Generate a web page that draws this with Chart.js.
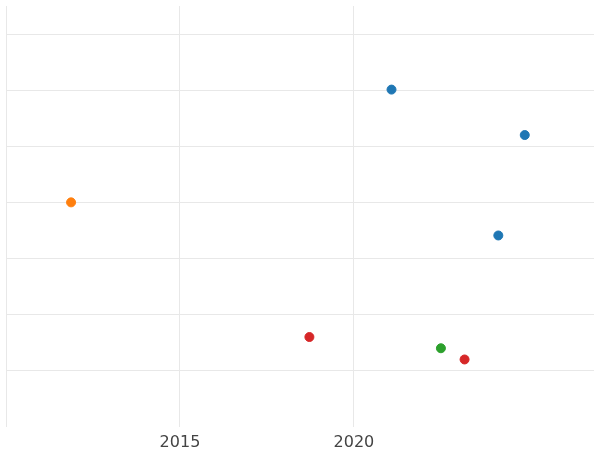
<!DOCTYPE html>
<html>
<head>
<meta charset="utf-8">
<script src="https://cdn.jsdelivr.net/npm/chart.js@4"></script>
<style>
  html, body { margin: 0; padding: 0; background: #fff; }
  #wrap { width: 600px; height: 450px; }
</style>
</head>
<body>
<div id="wrap"><canvas id="chart"></canvas></div>
<script>
  var blueX = [2021.08, 2024.91, 2024.15];
  var blueY = [6.01, 5.2, 3.41];
  var orangeX = [2011.87];
  var orangeY = [4.0];
  var redX = [2018.72, 2023.18];
  var redY = [1.6, 1.2];
  var greenX = [2022.5];
  var greenY = [1.4];
  var xTickLabels = [2015, 2020, 2025];

  function pts(xs, ys) {
    return xs.map(function (x, i) { return { x: x, y: ys[i] }; });
  }

  function ds(xs, ys, color) {
    return {
      data: pts(xs, ys),
      backgroundColor: color,
      borderColor: color,
      pointRadius: 4.5,
      pointHoverRadius: 5
    };
  }

  var X_MAX = 2026.9;
  var Y_MAX = 7.5;

  new Chart(document.getElementById('chart'), {
    type: 'scatter',
    data: {
      datasets: [
        ds(blueX, blueY, '#1f77b4'),
        ds(orangeX, orangeY, '#ff7f0e'),
        ds(redX, redY, '#d62728'),
        ds(greenX, greenY, '#2ca02c')
      ]
    },
    options: {
      responsive: true,
      maintainAspectRatio: false,
      animation: false,
      layout: { padding: { left: -1, right: -6, top: -6, bottom: -8 } },
      plugins: { legend: { display: false }, tooltip: { enabled: false } },
      scales: {
        x: {
          type: 'linear',
          min: 2010,
          max: X_MAX,
          border: { display: false },
          grid: {
            drawTicks: false,
            color: function (c) { return c.tick && c.tick.value === X_MAX ? 'rgba(0,0,0,0)' : '#e8e8e8'; }
          },
          ticks: {
            stepSize: 5,
            padding: 6,
            color: '#444',
            font: { family: 'DejaVu Sans', size: 16 },
            callback: function (v) {
              return xTickLabels.indexOf(v) >= 0 ? String(v) : '';
            }
          }
        },
        y: {
          min: 0,
          max: Y_MAX,
          border: { display: false },
          grid: {
            drawTicks: false,
            color: function (c) {
              var v = c.tick ? c.tick.value : 0;
              return (v === Y_MAX || v === 0) ? 'rgba(0,0,0,0)' : '#e8e8e8';
            }
          },
          ticks: { stepSize: 1, display: false }
        }
      }
    }
  });
</script>
</body>
</html>
